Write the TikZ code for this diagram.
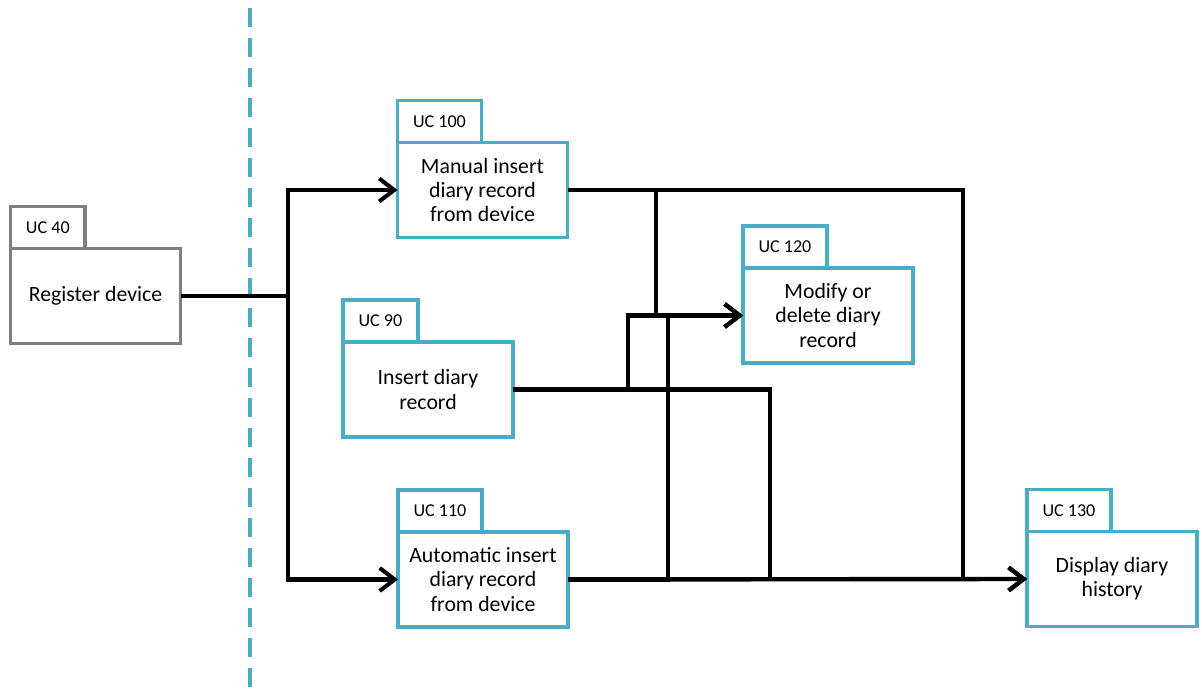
\documentclass[tikz,border=0pt]{standalone}
\usepackage{fontspec}
\setmainfont{Carlito}
\usetikzlibrary{arrows.meta}
\definecolor{ucblue}{RGB}{75,172,198}
\definecolor{ucgrey}{RGB}{127,127,127}

\begin{document}
\begin{tikzpicture}
\tikzstyle{ucbox}=[draw=ucblue, line width=2.1pt, fill=white, outer sep=0pt, minimum width=3.4cm, minimum height=1.9cm, align=center, font=\fontsize{12.4}{13.8}\selectfont];
\tikzstyle{uctab}=[draw=ucblue, line width=2.1pt, fill=white, outer sep=0pt, minimum height=0.84cm, inner xsep=0.31cm, anchor=south west, font=\fontsize{10.3}{12}\selectfont];
\tikzstyle{flow}=[line width=2.5pt, -{Straight Barb[length=3mm,width=4.6mm,line width=2.3pt]}];
\tikzstyle{link}=[line width=2.5pt];

\useasboundingbox (0,0) rectangle (24.04,-13.86);

% system boundary
\coordinate (top) at (5.0,-0.16);
\coordinate (bot) at (5.0,-13.86);
\draw[ucblue, line width=2.2pt, dash pattern=on 0.38cm off 0.22cm] (top) -- (bot);

\draw (1.91,-5.92) node[ucbox, draw=ucgrey] (uc40) {Register device};
\draw (uc40.north west) node[uctab, draw=ucgrey] (uc40t) {UC 40};

\draw (9.65,-3.80) node[ucbox] (uc100) {Manual insert\\diary record\\from device};
\draw (uc100.north west) node[uctab] (uc100t) {UC 100};

\draw (8.56,-7.79) node[ucbox] (uc90) {Insert diary\\record};
\draw (uc90.north west) node[uctab] (uc90t) {UC 90};

\draw (9.66,-11.59) node[ucbox] (uc110) {Automatic insert\\diary record\\from device};
\draw (uc110.north west) node[uctab] (uc110t) {UC 110};

\draw (16.56,-6.31) node[ucbox] (uc120) {Modify or\\delete diary\\record};
\draw (uc120.north west) node[uctab] (uc120t) {UC 120};

\draw (22.24,-11.58) node[ucbox] (uc130) {Display diary\\history};
\draw (uc130.north west) node[uctab] (uc130t) {UC 130};

% bend points
\coordinate (j0) at (5.76,-5.92);
\coordinate (c1) at (13.12,-5.0);
\coordinate (c2) at (19.26,-8.0);
\coordinate (c3) at (12.56,-7.0);
\coordinate (c4) at (15.40,-9.0);
\coordinate (c5) at (13.36,-9.0);

\draw[link] (uc40.east) -- (j0);
\draw[flow] (j0) |- (uc100.west);
\draw[flow] (j0) |- (uc110.west);

\draw[flow] (uc100.east) -| (c1) |- (uc120.west);
\draw[flow] (uc100.east) -| (c2) |- (uc130.west);
\draw[flow] (uc90.east) -| (c3) |- (uc120.west);
\draw[flow] (uc90.east) -| (c4) |- (uc130.west);
\draw[flow] (uc110.east) -| (c5) |- (uc120.west);
\draw[flow] (uc110.east) -- (uc130.west);

\end{tikzpicture}
\end{document}
